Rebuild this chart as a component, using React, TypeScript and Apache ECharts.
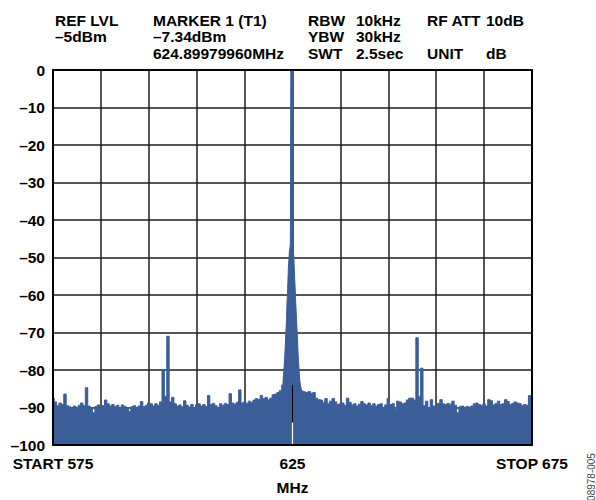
import React, { useEffect, useRef } from "react";
import * as echarts from "echarts";

// ---- data ----
const FREQ_START = 575;
const FREQ_STOP = 675;
const GRID_STEP = 10;
const COARSE_STEP = 0.5;
const FINE_STEP = 0.1;

// noise floor 575.0 .. 622.5 MHz, 0.5 MHz steps (dB)
const leftNoiseStart = 575.0;
const leftNoise = [
  -87.5, -88.5, -89.5, -88.8, -89.2, -86.4, -89.5, -89.8, -90.2, -89.6,
  -90.0, -89.4, -88.8, -89.5, -84.7, -89.6, -90.1, -91.4, -89.7, -89.3,
  -90.0, -89.5, -88.0, -89.0, -89.6, -89.2, -89.8, -89.4, -90.0, -89.3,
  -89.7, -90.3, -91.0, -89.8, -89.5, -90.0, -89.6, -88.4, -89.8, -89.4,
  -88.8, -89.0, -89.6, -89.0, -89.4, -88.5, -80.0, -87.0, -71.0, -88.5,
  -87.3, -89.0, -89.6, -89.3, -89.8, -88.2, -89.4, -89.9, -89.2, -90.1,
  -89.3, -89.0, -89.6, -89.2, -89.7, -86.8, -89.2, -88.9, -89.5, -90.1,
  -89.0, -89.4, -88.9, -89.2, -86.3, -88.8, -89.1, -88.6, -85.3, -88.8,
  -88.5, -88.9, -88.3, -88.6, -88.0, -87.6, -87.9, -86.8, -87.6, -87.3,
  -87.9, -87.5, -86.6, -86.4, -86.0, -85.5,
];

// carrier 623.0 .. 627.0 MHz, 0.1 MHz steps (dB)
const carrierStart = 623.0;
const carrierLevels = [
  -84.0, -82.5, -80.8, -79.0, -77.0, -74.5, -72.0, -69.0, -66.5, -62.0,
  -59.5, -56.0, -52.5, -50.5, -48.5, -47.5, -46.5, 0, 0, 0,
  0, 0, -47.0, -49.5, -52.0, -55.5, -58.0, -61.5, -64.0, -66.5,
  -69.5, -72.0, -75.0, -77.5, -79.5, -81.5, -83.0, -84.0, -84.5, -85.3,
  -85.6,
];

// noise floor 627.5 .. 675.0 MHz, 0.5 MHz steps (dB)
const rightNoiseStart = 627.5;
const rightNoise = [
  -85.8, -86.0, -85.7, -86.2, -86.0, -87.5, -87.9, -88.0, -88.6, -87.6,
  -88.9, -88.3, -87.6, -88.5, -89.2, -89.0, -88.8, -89.4, -87.5, -88.6,
  -89.3, -89.0, -89.6, -89.1, -88.4, -89.0, -89.3, -88.8, -89.5, -89.0,
  -89.6, -89.2, -89.0, -90.3, -89.3, -87.6, -89.2, -89.0, -90.5, -88.3,
  -88.5, -89.0, -88.8, -88.0, -87.5, -87.5, -88.0, -71.4, -87.0, -79.5,
  -89.5, -88.3, -90.0, -87.9, -89.6, -89.8, -88.9, -87.9, -89.0, -89.2,
  -88.9, -89.1, -88.3, -89.4, -91.4, -89.8, -89.6, -90.0, -89.7, -89.9,
  -89.6, -89.0, -88.8, -89.2, -89.4, -89.0, -89.6, -87.9, -88.2, -89.3,
  -89.0, -88.3, -89.2, -89.0, -87.9, -88.4, -89.2, -88.9, -88.5, -88.8,
  -89.0, -89.5, -89.2, -89.4, -86.8, -89.0,
];

const LEVEL_MIN = -100;
const LEVEL_MAX = 0;
const LEVEL_STEP = 10;

const xTickLabels: Record<number, string> = {
  575: "START 575",
  625: "625",
  675: "STOP 675",
};
const xAxisName = "MHz";

// trace artefact at the marker (MHz, dB from, dB to)
const markerBlack = [624.95, -84, -94];
const markerWhite = [624.85, -94, -100];

const headerColumns = [
  { x: 55, lines: ["REF LVL", "–5dBm", ""] },
  { x: 153, lines: ["MARKER 1 (T1)", "–7.34dBm", "624.89979960MHz"] },
  { x: 308, lines: ["RBW", "YBW", "SWT"] },
  { x: 356, lines: ["10kHz", "30kHz", "2.5sec"] },
  { x: 427, lines: ["RF ATT", "", "UNIT"] },
  { x: 486, lines: ["10dB", "", "dB"] },
];
const figureId = "08978-005";

const TRACE_COLOR = "#3b5e98";
const FONT = "'Liberation Sans', Arial, Helvetica, sans-serif";

function buildSeries() {
  const pts: number[][] = [];
  leftNoise.forEach((v, i) => pts.push([+(leftNoiseStart + i * COARSE_STEP).toFixed(2), v]));
  carrierLevels.forEach((v, i) => pts.push([+(carrierStart + i * FINE_STEP).toFixed(2), v]));
  rightNoise.forEach((v, i) => pts.push([+(rightNoiseStart + i * COARSE_STEP).toFixed(2), v]));
  return pts;
}

export default function App() {
  const ref = useRef<HTMLDivElement>(null);

  useEffect(() => {
    if (!ref.current) return;
    const chart = echarts.init(ref.current, undefined, { renderer: "svg" });

    const labelStyle = {
      color: "#000",
      fontSize: 15.5,
      fontWeight: "bold" as const,
      fontFamily: FONT,
    };
    const borderLine = { show: true, onZero: false, lineStyle: { color: "#000", width: 2 } };
    const gridLine = { show: true, lineStyle: { color: "#1e1e1e", width: 1.5 } };
    const xBase = { type: "value" as const, min: FREQ_START, max: FREQ_STOP, interval: GRID_STEP };
    const yBase = { type: "value" as const, min: LEVEL_MIN, max: LEVEL_MAX, interval: LEVEL_STEP };

    const graphic: any[] = [];
    headerColumns.forEach((col) => {
      col.lines.forEach((t, row) => {
        if (!t) return;
        graphic.push({
          type: "text",
          x: col.x,
          y: 12 + row * 16.5,
          style: {
            text: t,
            fill: "#000",
            fontSize: 15.5,
            fontWeight: "bold",
            fontFamily: FONT,
            align: "left",
            verticalAlign: "top",
            lineHeight: 16.5,
          },
        });
      });
    });
    graphic.push({
      type: "text",
      x: 591,
      y: 477,
      rotation: Math.PI / 2,
      style: {
        text: figureId,
        fill: "#444",
        fontSize: 10,
        fontFamily: FONT,
        align: "center",
        verticalAlign: "middle",
      },
    });

    chart.setOption({
      animation: false,
      grid: { left: 53, right: 64, top: 70, bottom: 49, containLabel: false },
      xAxis: [
        {
          ...xBase,
          position: "bottom",
          z: 10,
          axisLine: borderLine,
          axisTick: { show: false },
          splitLine: { show: false },
          axisLabel: {
            ...labelStyle,
            margin: 10,
            formatter: (v: number) => xTickLabels[v] ?? "",
          },
          name: xAxisName,
          nameLocation: "middle",
          nameGap: 34,
          nameTextStyle: labelStyle,
        },
        {
          ...xBase,
          position: "top",
          z: 10,
          axisLine: borderLine,
          axisTick: { show: false },
          axisLabel: { show: false },
          splitLine: { show: false },
        },
        {
          ...xBase,
          position: "bottom",
          z: 0,
          axisLine: { show: false },
          axisTick: { show: false },
          axisLabel: { show: false },
          splitLine: gridLine,
        },
      ],
      yAxis: [
        {
          ...yBase,
          position: "left",
          z: 10,
          axisLine: borderLine,
          axisTick: { show: false },
          splitLine: { show: false },
          axisLabel: {
            ...labelStyle,
            margin: 8,
            formatter: (v: number) => (v < 0 ? "–" + Math.abs(v) : String(v)),
          },
        },
        {
          ...yBase,
          position: "right",
          z: 10,
          axisLine: borderLine,
          axisTick: { show: false },
          axisLabel: { show: false },
          splitLine: { show: false },
        },
        {
          ...yBase,
          position: "left",
          z: 0,
          axisLine: { show: false },
          axisTick: { show: false },
          axisLabel: { show: false },
          splitLine: gridLine,
        },
      ],
      series: [
        {
          type: "line",
          xAxisIndex: 0,
          yAxisIndex: 0,
          data: buildSeries(),
          step: "middle",
          symbol: "none",
          showSymbol: false,
          z: 2,
          lineStyle: { color: TRACE_COLOR, width: 1 },
          areaStyle: { color: TRACE_COLOR, opacity: 1, origin: "start" },
          emphasis: { disabled: true },
          markLine: {
            silent: true,
            symbol: ["none", "none"],
            label: { show: false },
            animation: false,
            data: [
              [
                { coord: [markerBlack[0], markerBlack[1]], lineStyle: { color: "#000", width: 1, type: "solid" } },
                { coord: [markerBlack[0], markerBlack[2]] },
              ],
              [
                { coord: [markerWhite[0], markerWhite[1]], lineStyle: { color: "#fff", width: 1.2, type: "solid" } },
                { coord: [markerWhite[0], markerWhite[2]] },
              ],
            ],
          },
        },
      ],
      graphic,
    });

    return () => chart.dispose();
  }, []);

  return (
    <div
      ref={ref}
      style={{ position: "absolute", left: 0, top: 0, width: 596, height: 500, background: "#fff" }}
    />
  );
}
